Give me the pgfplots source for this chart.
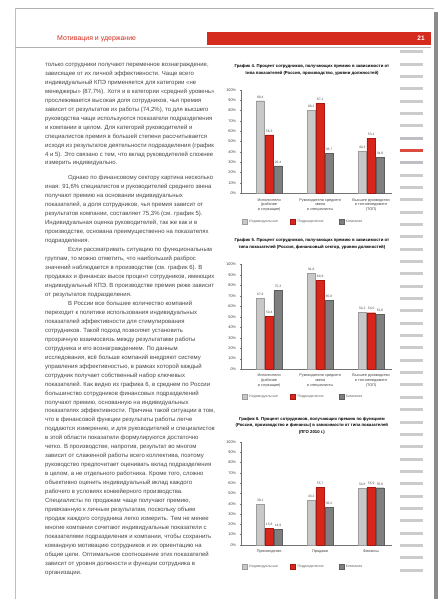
\documentclass[border=0pt]{standalone}
\usepackage{pgfplots}
\pgfplotsset{compat=1.18}
\usepackage{fontspec}
\setmainfont{Liberation Sans}
\definecolor{hdrred}{HTML}{D52B1E}
\definecolor{barlg}{HTML}{C8C8C8}
\definecolor{barlgb}{HTML}{9C9C9C}
\definecolor{barrd}{HTML}{D8261C}
\definecolor{barrdb}{HTML}{A8170F}
\definecolor{bardg}{HTML}{7F7F7F}
\definecolor{bardgb}{HTML}{5E5E5E}
\newcommand{\legitem}[1]{\makebox[37bp][l]{#1}}
\pgfplotsset{
  mylegimg/.style={legend image code/.code={\draw[##1,line width=0.4bp] (0bp,-2.3bp) rectangle (5bp,2.3bp);}},
  s1/.style={fill=barlg, draw=barlgb, line width=0.3bp, mylegimg},
  s2/.style={fill=barrd, draw=barrdb, line width=0.3bp, mylegimg},
  s3/.style={fill=bardg, draw=bardgb, line width=0.3bp, mylegimg},
  pagechart/.style={
    scale only axis, width=150bp,
    xmin=-0.54, xmax=2.4, ymin=0, ymax=100,
    ybar=0.5bp, bar width=8.4bp,
    axis x line*=bottom, axis y line*=left,
    axis line style={black!55, line width=0.4bp},
    ytick={0,10,...,100},
    yticklabel={\pgfmathprintnumber{\tick}\%},
    /pgf/number format/assume math mode=true,
    ytick align=outside, major tick length=1.6bp,
    ytick style={black!55, line width=0.3bp},
    xtick={0,1,2}, xtick style={draw=none},
    tick label style={font=\fontsize{3.8}{4.6}\selectfont, text=black!75},
    yticklabel style={xshift=-0.5bp},
    xticklabel style={align=center, text width=50bp, yshift=0.5bp},
    typeset ticklabels with strut,
    nodes near coords,
    nodes near coords style={font=\fontsize{3.3}{4}\selectfont, text=black!70, yshift=-1.2bp,
      /pgf/number format/fixed, /pgf/number format/fixed zerofill, /pgf/number format/precision=1,
      /pgf/number format/use comma, /pgf/number format/assume math mode=true},
    legend columns=3,
    legend style={draw=none, fill=none, font=\fontsize{3.6}{4}\selectfont, text=black!60, anchor=west, inner sep=0pt, /tikz/every even column/.append style={column sep=2bp}},
    clip=false,
  },
}
\begin{document}
\begin{tikzpicture}[x=1bp,y=1bp]
% page
\fill[white] (0,0) rectangle (441,599);
\draw[black!30, line width=0.5bp] (15,591) -- (434,591);
\draw[black!25, line width=0.5bp] (15,591) -- (15,0);
\fill[black!45] (434,587) rectangle (438,0);
% header
\fill[hdrred] (207,567) rectangle (431,554);
\node[anchor=west, inner sep=0, text=hdrred, font=\fontsize{7}{8}\selectfont] at (57,560.5) {Мотивация и удержание};
\node[anchor=east, inner sep=0, text=white, font=\bfseries\fontsize{6.5}{7}\selectfont] at (425,560.5) {21};
\draw[black!30, line width=0.6bp] (15,552) -- (431,552);
% sidebar
\foreach \i in {0,...,42} {
  \pgfmathsetmacro{\yy}{599-51.7-12.35*\i-1.5}
  \ifnum\i=8 \fill[hdrred!85] (400,\yy) rectangle ++(23,3);
  \else\ifnum\i=7 \fill[blue!10!black!25] (400,\yy) rectangle ++(23,3);
  \else\ifnum\i=9 \fill[blue!10!black!25] (400,\yy) rectangle ++(23,3);
  \else \fill[black!20] (400,\yy) rectangle ++(23,3);
  \fi\fi\fi
}
% body text
\node[anchor=north west, inner sep=0] at (45,536) {\parbox[t]{170bp}{\fontsize{6}{9}\selectfont\color{black!72}\raggedright
только сотрудники получают переменное вознаграждение, зависящее от их личной эффективности. Чаще всего индивидуальный КПЭ применяется для категории «не менеджеры» (87,7\%). Хотя и в категории «средний уровень» прослеживается высокая доля сотрудников, чья премия зависит от результатов их работы (74,2\%), то для высшего руководства чаще используются показатели подразделения и компании в целом. Для категорий руководителей и специалистов премия в большей степени рассчитывается исходя из результатов деятельности подразделения (график 4 и 5). Это связано с тем, что вклад руководителей сложнее измерить индивидуально.\par\vspace{6bp}
\hspace*{23bp}Однако по финансовому сектору картина несколько иная: 91,6\% специалистов и руководителей среднего звена получают премию на основании индивидуальных показателей, а доля сотрудников, чья премия зависит от результатов компании, составляет 75,3\% (см. график 5).\par
Индивидуальная оценка руководителей, так же как и в производстве, основана преимущественно на показателях подразделения.\par
\hspace*{23bp}Если рассматривать ситуацию по функциональным группам, то можно отметить, что наибольший разброс значений наблюдается в производстве (см. график 6). В продажах и финансах высок процент сотрудников, имеющих индивидуальный КПЭ. В производстве премия реже зависит от результатов подразделения.\par
\hspace*{23bp}В России все большее количество компаний переходит к политике использования индивидуальных показателей эффективности для стимулирования сотрудников. Такой подход позволяет установить прозрачную взаимосвязь между результатами работы сотрудника и его вознаграждением. По данным исследования, всё больше компаний внедряют систему управления эффективностью, в рамках которой каждый сотрудник получает собственный набор ключевых показателей. Как видно из графика 6, в среднем по России большинство сотрудников финансовых подразделений получают премию, основанную на индивидуальных показателях эффективности. Причина такой ситуации в том, что в финансовой функции результаты работы легче поддаются измерению, и для руководителей и специалистов в этой области показатели формулируются достаточно четко. В производстве, напротив, результат во многом зависит от слаженной работы всего коллектива, поэтому руководство предпочитает оценивать вклад подразделения в целом, а не отдельного работника. Кроме того, сложно объективно оценить индивидуальный вклад каждого рабочего в условиях конвейерного производства. Специалисты по продажам чаще получают премию, привязанную к личным результатам, поскольку объем продаж каждого сотрудника легко измерить. Тем не менее многие компании сочетают индивидуальные показатели с показателями подразделения и компании, чтобы сохранить командную мотивацию сотрудников и их ориентацию на общие цели. Оптимальное соотношение этих показателей зависит от уровня должности и функции сотрудника в организации.\par}};
% chart titles
\node[align=center, inner sep=0, font=\bfseries\fontsize{4.3}{6.8}\selectfont] at (312,529) {График 4. Процент сотрудников, получающих премию в зависимости от\\типа показателей (Россия, производство, уровни должностей)};
\node[align=center, inner sep=0, font=\bfseries\fontsize{4.3}{6.8}\selectfont] at (312,355) {График 5. Процент сотрудников, получающих премию в зависимости от\\типа показателей (Россия, финансовый сектор, уровни должностей)};
\node[align=center, inner sep=0, font=\bfseries\fontsize{4.3}{6.8}\selectfont] at (312,173) {График 6. Процент сотрудников, получающих премию по функциям\\(Россия, производство и финансы) в зависимости от типа показателей\\(ПГО 2010 г.)};
% chart 1
\begin{axis}[pagechart, height=103.5bp, at={(241.7bp,405.7bp)}, anchor=south west,
  xticklabels={{Исполнители\\(рабочие\\и служащие)},{Руководители среднего\\звена\\и специалисты},{Высшее руководство\\и топ-менеджмент\\(ТОП)}},
  legend style={at={(0,-0.277)}}]
\addplot[s1] coordinates {(0,89.4) (1,80.2) (2,40.3)};
\addplot[s2] coordinates {(0,56.3) (1,87.1) (2,53.1)};
\addplot[s3] coordinates {(0,26.4) (1,38.7) (2,34.8)};
\legend{\legitem{Индивидуальные},\legitem{Подразделение},\legitem{Компания}}
\end{axis}
% chart 2
\begin{axis}[pagechart, height=104.6bp, at={(241.7bp,229.7bp)}, anchor=south west,
  xticklabels={{Исполнители\\(рабочие\\и служащие)},{Руководители среднего\\звена\\и специалисты},{Высшее руководство\\и топ-менеджмент\\(ТОП)}},
  legend style={at={(0,-0.265)}}]
\addplot[s1] coordinates {(0,67.9) (1,91.6) (2,54.2)};
\addplot[s2] coordinates {(0,50.4) (1,84.9) (2,54.0)};
\addplot[s3] coordinates {(0,75.3) (1,65.8) (2,52.6)};
\legend{\legitem{Индивидуальные},\legitem{Подразделение},\legitem{Компания}}
\end{axis}
% chart 3
\begin{axis}[pagechart, height=102.7bp, at={(241.7bp,54bp)}, anchor=south west,
  xticklabels={Производство,Продажи,Финансы},
  legend style={at={(0,-0.214)}}]
\addplot[s1] coordinates {(0,39.1) (1,43.2) (2,54.8)};
\addplot[s2] coordinates {(0,15.8) (1,55.7) (2,55.9)};
\addplot[s3] coordinates {(0,14.9) (1,36.2) (2,55.6)};
\legend{\legitem{Индивидуальные},\legitem{Подразделение},\legitem{Компания}}
\end{axis}
\end{tikzpicture}
\end{document}
